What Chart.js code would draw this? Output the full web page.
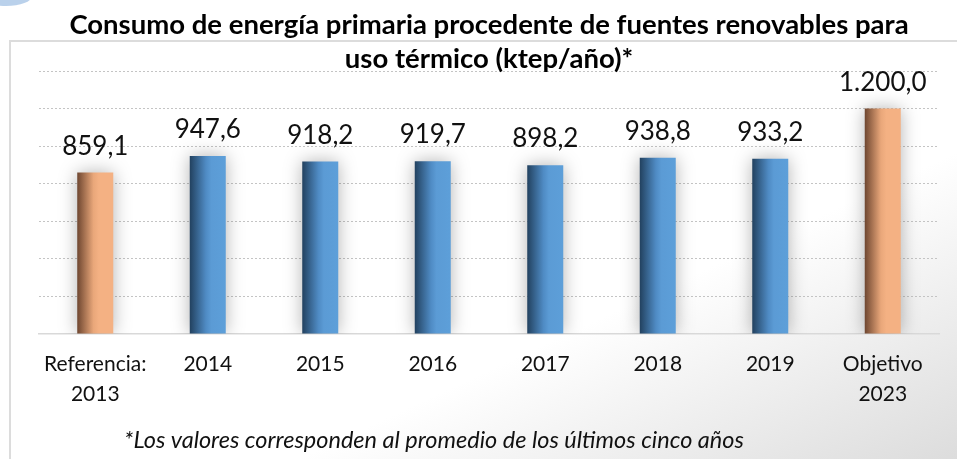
<!DOCTYPE html>
<html>
<head>
<meta charset="utf-8">
<script src="https://cdn.jsdelivr.net/npm/chart.js@4"></script>
<style>
  html, body { margin: 0; padding: 0; background: #fff; }
  #wrap { position: relative; width: 957px; height: 459px; overflow: hidden; }
  #frame {
    position: absolute; left: 9px; top: 40px; right: -2px; bottom: -2px;
    border-top: 2px solid #dcdcdc; border-left: 2px solid #dcdcdc;
    background: linear-gradient(155deg, #ffffff 0%, #ffffff 64%, #dcdcdc 100%);
  }
  #blob {
    position: absolute; left: -20px; top: -14px; width: 52px; height: 20px;
    border-radius: 50%; background: #a9c6e6; opacity: 0.8;
  }
  canvas { position: absolute; left: 0; top: 0; }
</style>
</head>
<body>
<div id="wrap">
  <div id="frame"></div>
  <div id="blob"></div>
  <canvas id="chart" width="957" height="459"></canvas>
</div>
<script>
const categories = [['Referencia:', '2013'], '2014', '2015', '2016', '2017', '2018', '2019', ['Objetivo', '2023']];
const values = [859.1, 947.6, 918.2, 919.7, 898.2, 938.8, 933.2, 1200.0];
const yTicks = [0, 200, 400, 600, 800, 1000, 1200, 1400];
const titleLines = ['Consumo de energía primaria procedente de fuentes renovables para', 'uso térmico (ktep/año)*'];
const footnote = '*Los valores corresponden al promedio de los últimos cinco años';

const FONT = 'Lato, "Open Sans", sans-serif';
const BAR_PCT = 0.32;

// 1200.0 -> "1.200,0"
function formatEs(v) {
  const [int, dec] = v.toFixed(1).split('.');
  return int.replace(/\B(?=(\d{3})+(?!\d))/g, '.') + ',' + dec;
}

function isTarget(i) {
  return i === 0 || i === values.length - 1;
}

function barFill(ctx) {
  const flat = isTarget(ctx.dataIndex) ? '#f4b183' : '#5b9bd5';
  const x = ctx.chart.scales && ctx.chart.scales.x;
  if (!x || ctx.dataIndex === undefined) return flat;
  const cx = x.getPixelForValue(ctx.dataIndex);
  const w = (x.width / categories.length) * BAR_PCT;
  if (!isFinite(cx) || !isFinite(w) || w <= 0) return flat;
  const g = ctx.chart.ctx.createLinearGradient(cx - w / 2, 0, cx + w / 2, 0);
  if (isTarget(ctx.dataIndex)) {
    g.addColorStop(0, '#6e4630');
    g.addColorStop(0.45, '#e9a77a');
    g.addColorStop(0.6, '#f4b183');
    g.addColorStop(1, '#f4b183');
  } else {
    g.addColorStop(0, '#22415f');
    g.addColorStop(0.45, '#4f8bc4');
    g.addColorStop(0.6, '#5b9bd5');
    g.addColorStop(1, '#5d9fd9');
  }
  return g;
}

const barShadow = {
  id: 'barShadow',
  beforeDatasetsDraw(chart) {
    const c = chart.ctx;
    c.save();
    c.shadowColor = 'rgba(0,0,0,0.3)';
    c.shadowBlur = 18;
  },
  afterDatasetsDraw(chart) {
    chart.ctx.restore();
  }
};

const valueLabels = {
  id: 'valueLabels',
  afterDatasetsDraw(chart) {
    const c = chart.ctx;
    c.save();
    c.font = '26px ' + FONT;
    c.fillStyle = '#111';
    c.textAlign = 'center';
    c.textBaseline = 'alphabetic';
    chart.getDatasetMeta(0).data.forEach((bar, i) => {
      c.fillText(formatEs(values[i]), bar.x, bar.y - 18);
    });
    c.restore();
  }
};

const footnoteText = {
  id: 'footnoteText',
  afterDraw(chart) {
    const c = chart.ctx;
    c.save();
    c.font = 'italic 23.5px ' + FONT;
    c.fillStyle = '#111';
    c.textAlign = 'center';
    c.textBaseline = 'middle';
    c.fillText(footnote, 434, 440);
    c.restore();
  }
};

new Chart(document.getElementById('chart'), {
  type: 'bar',
  data: {
    labels: categories,
    datasets: [{
      data: values,
      backgroundColor: barFill,
      borderWidth: 0,
      barPercentage: BAR_PCT,
      categoryPercentage: 1
    }]
  },
  options: {
    responsive: false,
    animation: false,
    layout: { padding: { left: 39, right: 18, top: 0, bottom: 43 } },
    plugins: {
      legend: { display: false },
      tooltip: { enabled: false },
      title: {
        display: true,
        text: titleLines,
        color: '#000',
        font: { family: FONT, size: 27.5, weight: 'bold', lineHeight: '34px' },
        padding: { top: 8, bottom: -5 }
      }
    },
    scales: {
      x: {
        grid: { display: false },
        border: { display: true, color: '#d9d9d9', width: 1.5 },
        ticks: {
          color: '#111',
          padding: 7,
          maxRotation: 0,
          autoSkip: false,
          font: { family: FONT, size: 21, lineHeight: '30px' }
        }
      },
      y: {
        min: yTicks[0],
        max: yTicks[yTicks.length - 1],
        afterBuildTicks(axis) {
          axis.ticks = yTicks.map(v => ({ value: v }));
        },
        ticks: { display: false },
        grid: {
          drawTicks: false,
          color: ctx => (ctx.tick && ctx.tick.value === 0) ? 'rgba(0,0,0,0)' : '#c4c4c4',
          lineWidth: 1
        },
        border: { display: false, dash: [2, 2] }
      }
    }
  },
  plugins: [barShadow, valueLabels, footnoteText]
});
</script>
</body>
</html>
